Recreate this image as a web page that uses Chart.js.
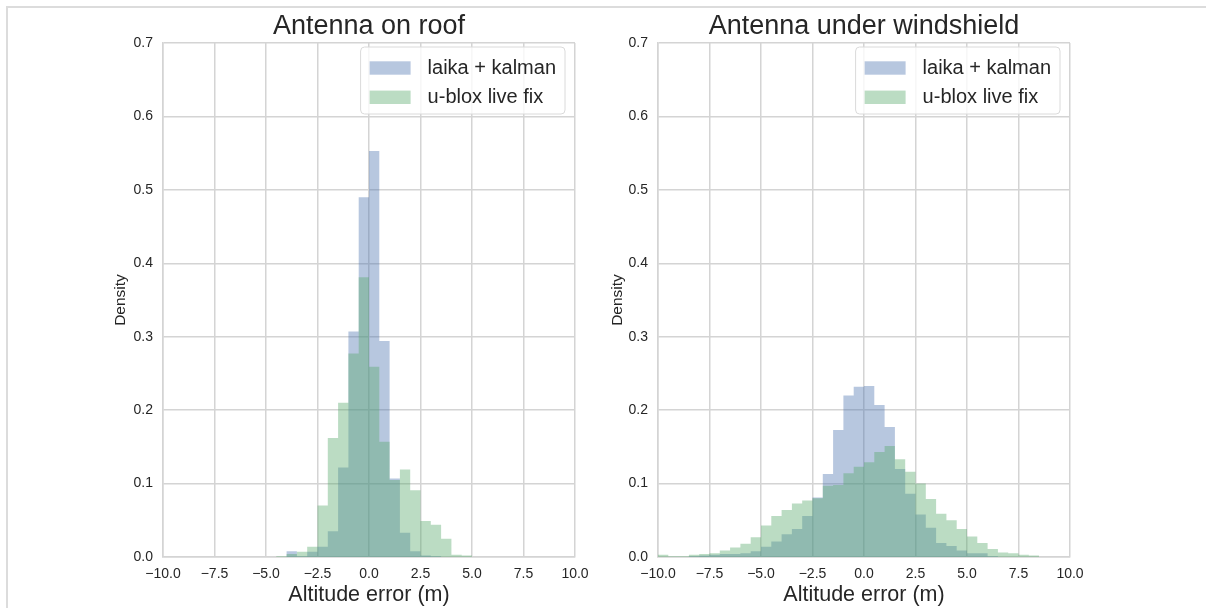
<!DOCTYPE html>
<html>
<head>
<meta charset="utf-8">
<script src="https://cdn.jsdelivr.net/npm/chart.js@4.4.1/dist/chart.umd.min.js"></script>
<style>
  html, body { margin: 0; padding: 0; background: #fff; }
  #page { position: relative; width: 1206px; height: 608px; overflow: hidden; }
  #frame { position: absolute; left: 6px; top: 6px; width: 1210px; height: 610px; border-left: 2px solid #dcdcdc; border-top: 2px solid #dcdcdc; }
  .panel { position: absolute; top: 0; width: 603px; height: 608px; }
</style>
</head>
<body>
<div id="page">
  <div id="frame"></div>
  <div class="panel" style="left:0"><canvas id="roofChart" width="603" height="608"></canvas></div>
  <div class="panel" style="left:603px"><canvas id="shieldChart" width="603" height="608"></canvas></div>
</div>
<script>
// histogram bin edges (left edge of each bin, plus the closing right edge)
const roofBins = [-5, -4.5, -4, -3.5, -3, -2.5, -2, -1.5, -1, -0.5, 0, 0.5, 1, 1.5, 2, 2.5, 3, 3.5, 4, 4.5, 5];
const roofLaika = [0, 0, 0.008, 0.001, 0.007, 0.014, 0.035, 0.122, 0.307, 0.49, 0.553, 0.294, 0.107, 0.033, 0.008, 0.002, 0.001, 0, 0, 0];
const roofUblox = [0, 0.001, 0.004, 0.007, 0.014, 0.07, 0.162, 0.21, 0.277, 0.381, 0.259, 0.157, 0.105, 0.119, 0.091, 0.049, 0.044, 0.025, 0.003, 0.002];

const shieldBins = [-10, -9.5, -9, -8.5, -8, -7.5, -7, -6.5, -6, -5.5, -5, -4.5, -4, -3.5, -3, -2.5, -2, -1.5, -1, -0.5,
                    0, 0.5, 1, 1.5, 2, 2.5, 3, 3.5, 4, 4.5, 5, 5.5, 6, 6.5, 7, 7.5, 8, 8.5];
const shieldLaika = [0, 0, 0, 0.001, 0.002, 0.003, 0.004, 0.004, 0.005, 0.008, 0.014, 0.021, 0.031, 0.038, 0.056, 0.081, 0.113, 0.173, 0.220, 0.232,
                     0.233, 0.207, 0.177, 0.120, 0.086, 0.058, 0.040, 0.019, 0.015, 0.009, 0.005, 0.005, 0.001, 0, 0, 0, 0];
const shieldUblox = [0.003, 0.001, 0.001, 0.003, 0.004, 0.005, 0.009, 0.013, 0.018, 0.027, 0.043, 0.056, 0.064, 0.073, 0.077, 0.080, 0.097, 0.098, 0.114, 0.123,
                     0.129, 0.143, 0.151, 0.133, 0.116, 0.100, 0.079, 0.059, 0.050, 0.038, 0.028, 0.019, 0.011, 0.006, 0.005, 0.003, 0.002];

const seriesNames = ['laika + kalman', 'u-blox live fix'];
const xTickLabels = ['\u221210.0', '\u22127.5', '\u22125.0', '\u22122.5', '0.0', '2.5', '5.0', '7.5', '10.0'];
const yTickLabels = ['0.0', '0.1', '0.2', '0.3', '0.4', '0.5', '0.6', '0.7'];

const BLUE = 'rgba(76, 114, 176, 0.4)';
const GREEN = 'rgba(85, 168, 104, 0.4)';
const GRID = '#d4d4d4';
const FONT = 'Liberation Sans';

Chart.defaults.font.family = FONT;
Chart.defaults.color = '#262626';

// turn bins + heights into step points for a filled step outline
function stepPoints(edges, heights) {
    const pts = heights.map((h, i) => ({ x: edges[i], y: h }));
    pts.push({ x: edges[heights.length], y: heights[heights.length - 1] });
    return pts;
}

// legend drawn in the upper right corner of the plot, like matplotlib's
const legendBox = {
    id: 'legendBox',
    afterDraw(chart) {
        const { ctx, chartArea } = chart;
        ctx.save();
        ctx.font = '20px "' + FONT + '"';
        const textW = Math.max(...chart.data.datasets.map(d => ctx.measureText(d.label).width));
        const w = 9 + 41 + 17 + textW + 9;
        const h = 67;
        const right = chartArea.right - 10;
        const left = right - w;
        const top = chartArea.top + 4;
        ctx.beginPath();
        ctx.roundRect(left, top, w, h, 4);
        ctx.fillStyle = 'rgba(255,255,255,0.8)';
        ctx.fill();
        ctx.strokeStyle = '#dadada';
        ctx.lineWidth = 1;
        ctx.stroke();
        chart.data.datasets.forEach((d, i) => {
            const cy = top + 21 + i * 29.3;
            ctx.fillStyle = '#fff';
            ctx.fillRect(left + 9, cy - 6.7, 41, 13.4);
            ctx.fillStyle = d.backgroundColor;
            ctx.fillRect(left + 9, cy - 6.7, 41, 13.4);
            ctx.fillStyle = '#262626';
            ctx.textBaseline = 'middle';
            ctx.fillText(d.label, left + 67, cy);
        });
        ctx.restore();
    }
};

function makeChart(id, title, bins, laika, ublox, padLeft, yWidth, padRight) {
    return new Chart(document.getElementById(id), {
        type: 'line',
        data: {
            datasets: [{
                label: seriesNames[0],
                data: stepPoints(bins, laika),
                backgroundColor: BLUE,
                borderColor: 'transparent',
                borderWidth: 0,
                pointRadius: 0,
                stepped: true,
                fill: 'origin',
                order: 2
            }, {
                label: seriesNames[1],
                data: stepPoints(bins, ublox),
                backgroundColor: GREEN,
                borderColor: 'transparent',
                borderWidth: 0,
                pointRadius: 0,
                stepped: true,
                fill: 'origin',
                order: 1
            }]
        },
        options: {
            responsive: false,
            animation: false,
            layout: { padding: { left: padLeft, right: padRight, top: 0, bottom: 0 } },
            plugins: {
                legend: { display: false },
                tooltip: { enabled: false },
                title: {
                    display: true,
                    fullSize: false,
                    text: title,
                    color: '#262626',
                    font: { size: 27, weight: 'normal' },
                    padding: { top: 10.6, bottom: 0 }
                }
            },
            scales: {
                x: {
                    type: 'linear',
                    min: -10,
                    max: 10,
                    grid: { color: GRID, lineWidth: 1.5, drawTicks: false },
                    border: { color: GRID, width: 1.5 },
                    ticks: {
                        stepSize: 2.5,
                        padding: 8.5,
                        maxRotation: 0,
                        autoSkip: false,
                        font: { size: 14 },
                        callback: (v, i) => xTickLabels[i]
                    },
                    title: {
                        display: true,
                        text: 'Altitude error (m)',
                        font: { size: 21.5 },
                        padding: { top: 0, bottom: 0 }
                    },
                    afterFit: (s) => { s.height = 51; s.paddingLeft = 0; s.paddingRight = 0; }
                },
                y: {
                    min: 0,
                    max: 0.7,
                    grid: { color: GRID, lineWidth: 1.5, drawTicks: false },
                    border: { color: GRID, width: 1.5 },
                    ticks: {
                        stepSize: 0.1,
                        padding: 10,
                        font: { size: 14 },
                        callback: (v) => yTickLabels[Math.round(v * 10)]
                    },
                    title: {
                        display: true,
                        text: 'Density',
                        font: { size: 15.5 },
                        padding: { top: 0, bottom: 0 }
                    },
                    afterFit: (s) => { s.width = yWidth; s.paddingTop = 0; s.paddingBottom = 0; }
                }
            }
        },
        plugins: [legendBox]
    });
}

makeChart('roofChart', 'Antenna on roof', roofBins, roofLaika, roofUblox, 111.7, 51.3, 28);
makeChart('shieldChart', 'Antenna under windshield', shieldBins, shieldLaika, shieldUblox, 5.7, 49.3, 136);
</script>
</body>
</html>
